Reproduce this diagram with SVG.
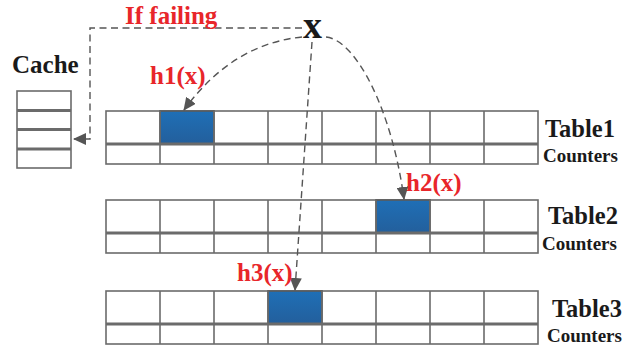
<svg xmlns="http://www.w3.org/2000/svg" width="638" height="350" viewBox="0 0 638 350">
<defs>
<style>
.cell{fill:#fff;stroke:#6b6b6b;stroke-width:1.6}
.ln{stroke:#6b6b6b;stroke-width:1.6;fill:none}
.mid{stroke:#6b6b6b;stroke-width:3;fill:none}
.blue{fill:url(#bg);stroke:#5a5a5a;stroke-width:1.6}
.dash{fill:none;stroke:#555;stroke-width:1.4;stroke-dasharray:7 4.5}
.red{font-family:"Liberation Serif",serif;font-weight:bold;fill:#e8262a}
.blk{font-family:"Liberation Serif",serif;font-weight:bold;fill:#1a1a1a}
</style>
<linearGradient id="bg" x1="0" y1="0" x2="0" y2="1">
<stop offset="0" stop-color="#1f6fb6"/>
<stop offset="1" stop-color="#235f9c"/>
</linearGradient>
<marker id="ah" markerUnits="userSpaceOnUse" markerWidth="14" markerHeight="12" viewBox="0 0 14 12" refX="12" refY="6" orient="auto">
<path d="M0,0 L13,6 L0,12 Z" fill="#555"/>
</marker>
</defs>
<rect width="638" height="350" fill="#fff"/>

<g id="cache">
<rect class="cell" x="17" y="91" width="54" height="77"/>
<line class="mid" x1="17" y1="110.5" x2="71" y2="110.5"/>
<line class="mid" x1="17" y1="129.5" x2="71" y2="129.5"/>
<line class="mid" x1="17" y1="149" x2="71" y2="149"/>
<text class="blk" x="12" y="73" font-size="25">Cache</text>
</g>

<g id="table1">
<rect class="cell" x="106" y="111" width="432" height="53"/>
<rect class="blue" x="160" y="111" width="54" height="33"/>
<path class="ln" d="M160,111V164M214,111V164M268,111V164M322,111V164M376,111V164M430,111V164M484,111V164"/>
<line class="mid" x1="106" y1="144" x2="538" y2="144"/>
<text class="blk" x="545" y="137" font-size="24.5">Table1</text>
<text class="blk" x="543" y="161.5" font-size="19">Counters</text>
</g>

<g id="table2">
<rect class="cell" x="106" y="200" width="432" height="53"/>
<rect class="blue" x="376" y="200" width="54" height="33"/>
<path class="ln" d="M160,200V253M214,200V253M268,200V253M322,200V253M376,200V253M430,200V253M484,200V253"/>
<line class="mid" x1="106" y1="233" x2="538" y2="233"/>
<text class="blk" x="548" y="224" font-size="24.5">Table2</text>
<text class="blk" x="542" y="250" font-size="19">Counters</text>
</g>

<g id="table3">
<rect class="cell" x="106" y="291" width="432" height="53"/>
<rect class="blue" x="268" y="291" width="54" height="33"/>
<path class="ln" d="M160,291V344M214,291V344M268,291V344M322,291V344M376,291V344M430,291V344M484,291V344"/>
<line class="mid" x1="106" y1="324" x2="538" y2="324"/>
<text class="blk" x="552" y="316.5" font-size="24.5">Table3</text>
<text class="blk" x="547" y="341.5" font-size="19">Counters</text>
</g>

<g id="x">
<text class="blk" x="303" y="38" font-size="38">x</text>
</g>

<g id="connectors">
<path class="dash" d="M302,28 H90 V139 H74" marker-end="url(#ah)"/>
<path class="dash" d="M302,37 Q232,44 184,110" marker-end="url(#ah)"/>
<path class="dash" d="M326,37 C356,40 392,110 404,199" marker-end="url(#ah)"/>
<path class="dash" d="M312,42 L295,290" marker-end="url(#ah)"/>
</g>

<g id="labels">
<text class="red" x="125" y="24" font-size="25">If failing</text>
<text class="red" x="150" y="84" font-size="25">h1(x)</text>
<text class="red" x="406" y="191" font-size="25">h2(x)</text>
<text class="red" x="237" y="281" font-size="25">h3(x)</text>
</g>
</svg>
